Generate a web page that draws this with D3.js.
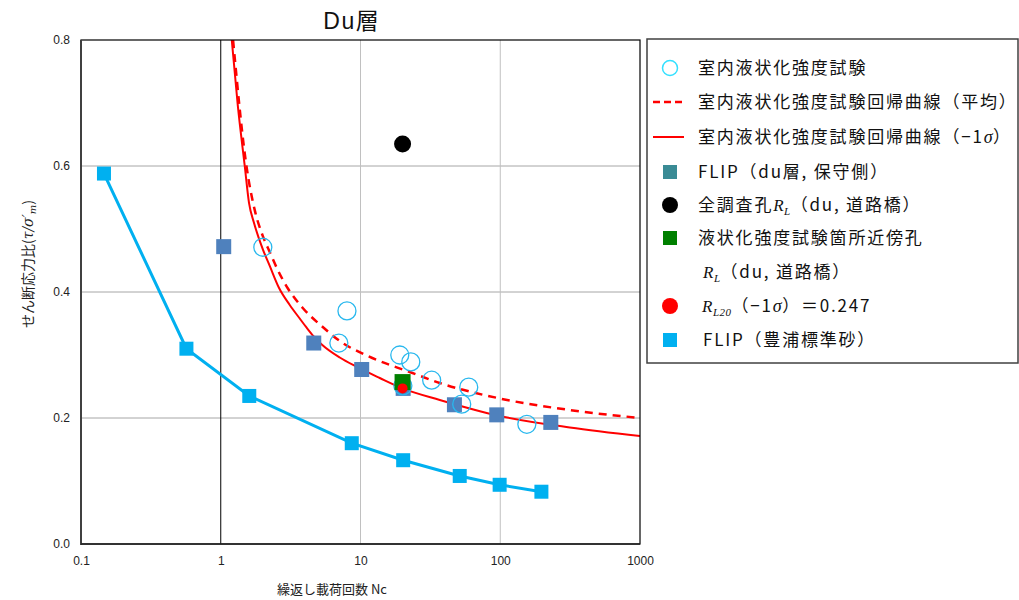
<!DOCTYPE html>
<html>
<head>
<meta charset="utf-8">
<script src="https://cdn.jsdelivr.net/npm/d3@7"></script>
<style>
  html, body { margin: 0; padding: 0; background: #fff; }
  svg { display: block; }
  .jp { font-family: "Noto Sans CJK JP", "Noto Sans", sans-serif; }
  .num { font-family: "Liberation Sans", Arial, sans-serif; }
</style>
</head>
<body>
<svg id="chart" width="1019" height="600"></svg>
<script>
// Laboratory liquefaction strength tests (open circles)
const labNc = [2.0, 7.0, 8.0, 19.1, 22.9, 20.1, 32.3, 59.5, 53, 155];
const labR  = [0.471, 0.319, 0.370, 0.300, 0.289, 0.251, 0.260, 0.249, 0.222, 0.190];

// Regression curve (mean), sampled
const meanNc = [1.225, 1.527, 1.751, 1.998, 2.242, 2.558, 3.016, 3.862, 5.370, 7.103, 11.27, 22.51, 36.91, 99.2, 314.5, 1000];
const meanR  = [0.800, 0.600, 0.530, 0.489, 0.4635, 0.435, 0.406, 0.3746, 0.3444, 0.3222, 0.2984, 0.273, 0.2556, 0.231, 0.2127, 0.200];

// Regression curve (-1 sigma), sampled
const sigNc = [1.199, 1.323, 1.485, 1.594, 1.722, 1.861, 2.007, 2.242, 2.614, 3.117, 3.675, 4.105, 4.629, 5.281, 7.103, 9.355, 13.73, 20, 36.91, 99.2, 314.5, 1000];
const sigR  = [0.800, 0.697, 0.600, 0.541, 0.511, 0.487, 0.467, 0.4413, 0.4063, 0.3794, 0.3579, 0.3437, 0.3294, 0.3167, 0.2960, 0.2814, 0.2635, 0.247, 0.2286, 0.2032, 0.1849, 0.1714];

// FLIP (du layer, conservative side)
const flipDuNc = [1.05, 4.63, 10.2, 20.2, 47, 94.4, 230];
const flipDuR  = [0.472, 0.319, 0.277, 0.247, 0.221, 0.205, 0.193];

// FLIP (Toyoura standard sand)
const toyouraNc = [0.146, 0.568, 1.6, 8.66, 20.2, 51.3, 99, 197];
const toyouraR  = [0.588, 0.310, 0.235, 0.160, 0.133, 0.108, 0.094, 0.083];

// Single points
const allHoleRL = { nc: 20, r: 0.635 };   // 全調査孔 R_L
const nearHoleRL = { nc: 20, r: 0.257 };  // 近傍孔 R_L
const rl20 = { nc: 20, r: 0.247 };        // R_L20(-1σ)

const xTicks = [0.1, 1, 10, 100, 1000];
const yTicks = [0, 0.2, 0.4, 0.6, 0.8];

const svg = d3.select("#chart");
const pL = 81, pR = 640, pT = 40, pB = 544;
const x = d3.scaleLog().domain([0.1, 1000]).range([pL, pR]);
const y = d3.scaleLinear().domain([0, 0.8]).range([pB, pT]);

// Gridlines
const grid = svg.append("g");
grid.selectAll("line.h").data(yTicks.filter(d => d > 0 && d < 0.8)).join("line")
  .attr("x1", pL).attr("x2", pR)
  .attr("y1", d => y(d)).attr("y2", d => y(d))
  .attr("stroke", "#a6a6a6").attr("stroke-width", 1);
grid.selectAll("line.v").data(xTicks.filter(d => d > 0.1 && d < 1000)).join("line")
  .attr("y1", pT).attr("y2", pB)
  .attr("x1", d => x(d)).attr("x2", d => x(d))
  .attr("stroke", d => d === 1 ? "#000" : "#c0c0c0").attr("stroke-width", 1);

// Axes (labels only)
const xAxis = svg.append("g").attr("transform", `translate(0,${pB})`)
  .call(d3.axisBottom(x).tickValues(xTicks).tickSize(0).tickPadding(12)
    .tickFormat(d => d < 1 ? "0.1" : d3.format("d")(d)));
xAxis.select(".domain").remove();
xAxis.selectAll("text").attr("class", "num").attr("font-size", 12).attr("fill", "#222");

const yAxis = svg.append("g").attr("transform", `translate(${pL},0)`)
  .call(d3.axisLeft(y).tickValues(yTicks).tickSize(0).tickPadding(11).tickFormat(d3.format(".1f")));
yAxis.select(".domain").remove();
yAxis.selectAll("text").attr("class", "num").attr("font-size", 12).attr("fill", "#222");

// Curves
const line = d3.line().x(d => x(d[0])).y(d => y(d[1])).curve(d3.curveMonotoneX);
svg.append("clipPath").attr("id", "plotclip").append("rect")
  .attr("x", pL).attr("y", pT).attr("width", pR - pL).attr("height", pB - pT);
const curves = svg.append("g").attr("clip-path", "url(#plotclip)");
curves.append("path").datum(d3.zip(sigNc, sigR)).attr("d", line)
  .attr("fill", "none").attr("stroke", "#ff0000").attr("stroke-width", 2);
curves.append("path").datum(d3.zip(meanNc, meanR)).attr("d", line)
  .attr("fill", "none").attr("stroke", "#ff0000").attr("stroke-width", 2.5)
  .attr("stroke-dasharray", "8,6");

// FLIP Toyoura line + markers
const lin = d3.line().x(d => x(d[0])).y(d => y(d[1]));
svg.append("path").datum(d3.zip(toyouraNc, toyouraR)).attr("d", lin)
  .attr("fill", "none").attr("stroke", "#00b0f0").attr("stroke-width", 3);
svg.append("g").selectAll("rect").data(d3.zip(toyouraNc, toyouraR)).join("rect")
  .attr("x", d => x(d[0]) - 7).attr("y", d => y(d[1]) - 7)
  .attr("width", 14).attr("height", 14).attr("fill", "#00b0f0");

// FLIP du squares
svg.append("g").selectAll("rect").data(d3.zip(flipDuNc, flipDuR)).join("rect")
  .attr("x", d => x(d[0]) - 7.5).attr("y", d => y(d[1]) - 7.5)
  .attr("width", 15).attr("height", 15).attr("fill", "#4f81bd");

// Lab test open circles
svg.append("g").selectAll("circle").data(d3.zip(labNc, labR)).join("circle")
  .attr("cx", d => x(d[0])).attr("cy", d => y(d[1])).attr("r", 9)
  .attr("fill", "none").attr("stroke", "#29b8ee").attr("stroke-width", 1.3);

// Near-hole R_L (green square)
svg.append("rect").attr("x", x(nearHoleRL.nc) - 8).attr("y", y(nearHoleRL.r) - 8)
  .attr("width", 16).attr("height", 16).attr("fill", "#008000");
// R_L20 red dot
svg.append("circle").attr("cx", x(rl20.nc)).attr("cy", y(rl20.r)).attr("r", 5).attr("fill", "#ff0000");
// All-hole R_L black dot
svg.append("circle").attr("cx", x(allHoleRL.nc)).attr("cy", y(allHoleRL.r)).attr("r", 8.5).attr("fill", "#000");

// Plot frame
svg.append("rect").attr("x", pL).attr("y", pT).attr("width", pR - pL).attr("height", pB - pT)
  .attr("fill", "none").attr("stroke", "#000").attr("stroke-width", 1.2);
svg.append("line").attr("x1", pL).attr("x2", pL).attr("y1", pT).attr("y2", pB + 1)
  .attr("stroke", "#404040").attr("stroke-width", 2);
svg.append("line").attr("x1", pL).attr("x2", pR).attr("y1", pB).attr("y2", pB)
  .attr("stroke", "#222").attr("stroke-width", 1.6);

// Title
{
  const t = svg.append("text").attr("x", 351).attr("y", 29)
    .attr("text-anchor", "middle").attr("font-size", 23).attr("fill", "#111");
  t.append("tspan").attr("class", "num").attr("letter-spacing", "1.5px").text("Du");
  t.append("tspan").attr("class", "jp").text("層");
}

// Axis titles
svg.append("text").attr("class", "jp").attr("x", 332).attr("y", 594)
  .attr("text-anchor", "middle").attr("font-size", 13).attr("fill", "#222").text("繰返し載荷回数 Nc");

const yt = svg.append("text").attr("class", "jp")
  .attr("transform", "translate(33,264) rotate(-90)")
  .attr("text-anchor", "middle").attr("font-size", 14).attr("fill", "#222");
yt.append("tspan").text("せん断応力比(");
yt.append("tspan").attr("font-family", "'DejaVu Serif', serif").attr("font-style", "italic").text("τ/σ′");
yt.append("tspan").attr("font-family", "'DejaVu Serif', serif").attr("font-style", "italic")
  .attr("font-size", 10).attr("dy", 3).text("m");
yt.append("tspan").attr("dy", -3).text(")");

// Legend
const lg = svg.append("g");
lg.append("rect").attr("x", 647).attr("y", 39).attr("width", 371).attr("height", 324)
  .attr("fill", "#fff").attr("stroke", "#404040").attr("stroke-width", 1.5);

const legendRows = [68, 102, 137, 172, 205, 238, 272, 306, 340];
const mx = 670, tx = 698;
const ls = "1.8px";
function legendText(yy, xx) {
  return lg.append("text").attr("class", "jp").attr("x", xx).attr("y", yy + 6)
    .attr("font-size", 17).attr("fill", "#111").attr("letter-spacing", ls);
}
function italic(t, s, size, dy) {
  const ts = t.append("tspan").attr("font-family", "'Liberation Serif', serif")
    .attr("font-style", "italic").attr("letter-spacing", "0.5px").text(s);
  if (size) ts.attr("font-size", size);
  if (dy) ts.attr("dy", dy);
  return ts;
}
// 1 open circle
lg.append("circle").attr("cx", mx).attr("cy", legendRows[0]).attr("r", 7.5)
  .attr("fill", "none").attr("stroke", "#33e0ff").attr("stroke-width", 1.5);
legendText(legendRows[0], tx).text("室内液状化強度試験");
// 2 dashed
lg.append("line").attr("x1", 653).attr("x2", 684).attr("y1", legendRows[1]).attr("y2", legendRows[1])
  .attr("stroke", "#ff0000").attr("stroke-width", 2.5).attr("stroke-dasharray", "7,4");
legendText(legendRows[1], tx).text("室内液状化強度試験回帰曲線（平均）");
// 3 solid
lg.append("line").attr("x1", 653).attr("x2", 684).attr("y1", legendRows[2]).attr("y2", legendRows[2])
  .attr("stroke", "#ff0000").attr("stroke-width", 2);
{
  const t = legendText(legendRows[2], tx);
  t.append("tspan").text("室内液状化強度試験回帰曲線（−1");
  italic(t, "σ", 18);
  t.append("tspan").text("）");
}
// 4 teal square
lg.append("rect").attr("x", mx - 7).attr("y", legendRows[3] - 7).attr("width", 14).attr("height", 14).attr("fill", "#3a8b95");
legendText(legendRows[3], tx).text("FLIP（du層, 保守側）");
// 5 black dot
lg.append("circle").attr("cx", mx).attr("cy", legendRows[4]).attr("r", 8).attr("fill", "#000");
{
  const t = legendText(legendRows[4], tx);
  t.append("tspan").text("全調査孔");
  italic(t, "R");
  italic(t, "L", 11, 4);
  t.append("tspan").attr("dy", -4).text("（du, 道路橋）");
}
// 6 green square
lg.append("rect").attr("x", mx - 7).attr("y", legendRows[5] - 7).attr("width", 14).attr("height", 14).attr("fill", "#008000");
legendText(legendRows[5], tx).text("液状化強度試験箇所近傍孔");
// 7 continuation
{
  const t = legendText(legendRows[6], 703);
  italic(t, "R");
  italic(t, "L", 11, 4);
  t.append("tspan").attr("dy", -4).text("（du, 道路橋）");
}
// 8 red dot
lg.append("circle").attr("cx", mx).attr("cy", legendRows[7]).attr("r", 8).attr("fill", "#ff0000");
{
  const t = legendText(legendRows[7], 702);
  italic(t, "R");
  italic(t, "L20", 11, 4);
  t.append("tspan").attr("dy", -4).text("（−1");
  italic(t, "σ", 18);
  t.append("tspan").text("）＝" + rl20.r.toFixed(3));
}
// 9 cyan square
lg.append("rect").attr("x", mx - 7).attr("y", legendRows[8] - 7).attr("width", 14).attr("height", 14).attr("fill", "#00b0f0");
legendText(legendRows[8], 703).text("FLIP（豊浦標準砂）");
</script>
</body>
</html>
